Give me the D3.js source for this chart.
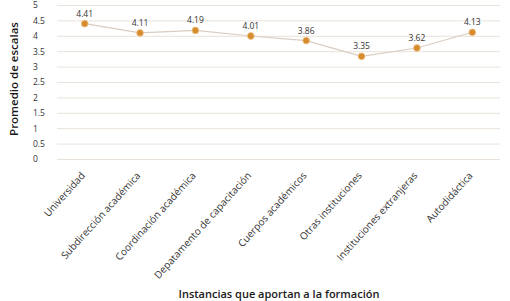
<!DOCTYPE html>
<html>
<head>
<meta charset="utf-8">
<script src="https://cdn.jsdelivr.net/npm/d3@7"></script>
<style>
  body { margin: 0; background: #fff; }
  svg { display: block; font-family: "Open Sans", sans-serif; }
</style>
</head>
<body>
<svg id="chart" width="510" height="301"></svg>
<script>
// data
const categories = [
    "Universidad",
    "Subdirección académica",
    "Coordinación académica",
    "Depatamento de capacitación",
    "Cuerpos académicos",
    "Otras instituciones",
    "Instituciones extranjeras",
    "Autodidáctica"
];
const values = [4.41, 4.11, 4.19, 4.01, 3.86, 3.35, 3.62, 4.13];
const yTicks = [0, 0.5, 1, 1.5, 2, 2.5, 3, 3.5, 4, 4.5, 5];

const pointColor = "#d68b2c";
const lineColor = "#d9cdc0";
const gridColor = "#e9e2da";
const textColor = "#333";

function draw() {
    const svg = d3.select("#chart");

    const x = d3.scaleBand().domain(categories).range([57, 500]);
    const y = d3.scaleLinear().domain([0, 5]).range([159.5, 5.5]);

    // gridlines
    svg.append("g")
        .selectAll("line")
        .data(yTicks)
        .join("line")
        .attr("x1", 57)
        .attr("x2", 500)
        .attr("y1", d => y(d))
        .attr("y2", d => y(d))
        .attr("stroke", gridColor)
        .attr("stroke-width", 1);

    // y tick labels (left aligned, like the original)
    svg.append("g")
        .selectAll("text")
        .data(yTicks)
        .join("text")
        .attr("x", 33)
        .attr("y", d => y(d))
        .attr("dy", "0.35em")
        .attr("font-size", 8.5)
        .attr("fill", textColor)
        .text(d => d);

    // x labels, rotated
    svg.append("g")
        .selectAll("text")
        .data(categories)
        .join("text")
        .attr("transform", d => `translate(${x(d) + x.bandwidth() / 2 + 1},176) rotate(-48)`)
        .attr("text-anchor", "end")
        .attr("font-size", 10)
        .attr("fill", textColor)
        .text(d => d);

    // the line
    const cx = (d, i) => x(categories[i]) + x.bandwidth() / 2;
    svg.append("path")
        .datum(values)
        .attr("d", d3.line().x(cx).y(d => y(d)))
        .attr("fill", "none")
        .attr("stroke", lineColor)
        .attr("stroke-width", 1.2);

    svg.append("g")
        .selectAll("circle")
        .data(values)
        .join("circle")
        .attr("cx", cx)
        .attr("cy", d => y(d))
        .attr("r", 3.4)
        .attr("fill", pointColor)
        .attr("stroke", "#f0c690")
        .attr("stroke-width", 0.8);

    svg.append("g")
        .selectAll("text")
        .data(values)
        .join("text")
        .attr("x", cx)
        .attr("y", d => y(d) - 7)
        .attr("text-anchor", "middle")
        .attr("font-size", 8.5)
        .attr("fill", textColor)
        .text(d => d.toFixed(2));

    // axis titles
    svg.append("text")
        .attr("transform", "translate(18,79) rotate(-90)")
        .attr("text-anchor", "middle")
        .attr("font-size", 11.5)
        .attr("font-weight", 600)
        .attr("fill", "#1a1a1a")
        .text("Promedio de escalas");

    svg.append("text")
        .attr("x", 279)
        .attr("y", 298)
        .attr("text-anchor", "middle")
        .attr("font-size", 11)
        .attr("font-weight", 600)
        .attr("fill", "#1a1a1a")
        .text("Instancias que aportan a la formación");
}

draw();
</script>
</body>
</html>
